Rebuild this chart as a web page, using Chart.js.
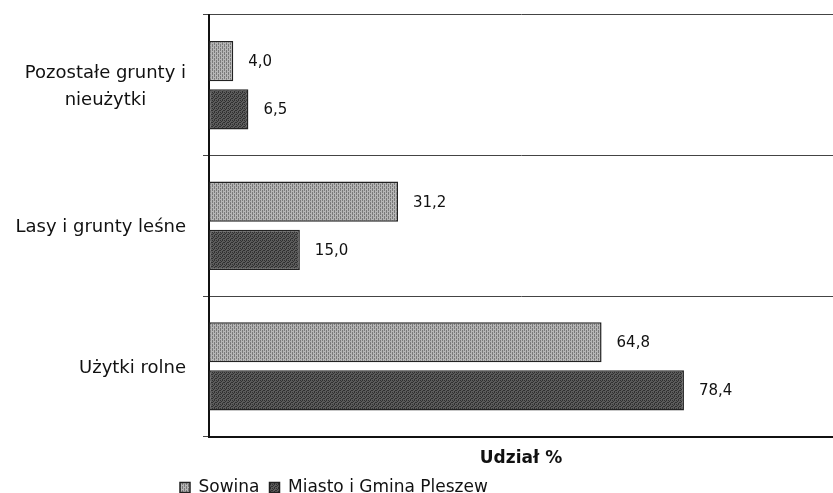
<!DOCTYPE html>
<html>
<head>
<meta charset="utf-8">
<script src="https://cdn.jsdelivr.net/npm/chart.js@4/dist/chart.umd.min.js"></script>
<style>
  html, body { margin: 0; padding: 0; background: #fff; }
  #wrap { width: 833px; height: 493px; position: relative; }
</style>
</head>
<body>
<div id="wrap"><canvas id="landChart"></canvas></div>
<script>
// land use shares, % of area
const CATEGORIES = [
  ["Pozostałe grunty i", "nieużytki"],
  ["Lasy i grunty leśne"],
  ["Użytki rolne"],
];
const SERIES_NAMES = ["Sowina", "Miasto i Gmina Pleszew"];
const SOWINA = [4.0, 31.2, 64.8];
const PLESZEW = [6.5, 15.0, 78.4];
const AXIS_TITLE = "Udział %";

const FONT = "'DejaVu Sans', Verdana, sans-serif";

// small dithered fills, like the scanned print
function makePattern(base, dark, mask) {
  const c = document.createElement("canvas");
  c.width = 4;
  c.height = 4;
  const g = c.getContext("2d");
  g.fillStyle = base;
  g.fillRect(0, 0, 4, 4);
  g.fillStyle = dark;
  mask.forEach((row, y) => {
    row.forEach((v, x) => { if (v) g.fillRect(x, y, 1, 1); });
  });
  return g.createPattern(c, "repeat");
}

const lightFill = makePattern("#b6b6b6", "#7a7a7a", [
  [1, 0, 1, 0],
  [1, 0, 0, 0],
  [1, 0, 1, 0],
  [0, 0, 1, 0],
]);
const darkFill = makePattern("#5c5c5c", "#303030", [
  [1, 0, 1, 0],
  [0, 1, 0, 0],
  [1, 0, 0, 1],
  [0, 0, 1, 0],
]);

const fmt = (v) => v.toFixed(1).replace(".", ",");

// value labels to the right of each bar
const valueLabels = {
  id: "valueLabels",
  afterDatasetsDraw(chart) {
    const ctx = chart.ctx;
    ctx.save();
    ctx.font = `15px ${FONT}`;
    ctx.fillStyle = "#111";
    ctx.textAlign = "left";
    ctx.textBaseline = "middle";
    chart.data.datasets.forEach((ds, i) => {
      chart.getDatasetMeta(i).data.forEach((bar, j) => {
        ctx.fillText(fmt(ds.data[j]), bar.x + 15, bar.y + 1);
      });
    });
    ctx.restore();
  },
};

// category labels: right aligned block, lines centred inside it (Excel style)
const categoryLabels = {
  id: "categoryLabels",
  afterDraw(chart) {
    const ctx = chart.ctx;
    const y = chart.scales.y;
    ctx.save();
    ctx.font = `18px ${FONT}`;
    ctx.fillStyle = "#111";
    ctx.textAlign = "center";
    ctx.textBaseline = "middle";
    const right = y.right - 23;
    const lh = 27;
    CATEGORIES.forEach((lines, i) => {
      const w = Math.max(...lines.map((l) => ctx.measureText(l).width));
      const cx = right - w / 2;
      const cy = y.getPixelForTick(i) + 2;
      lines.forEach((l, k) => {
        ctx.fillText(l, cx, cy + (k - (lines.length - 1) / 2) * lh);
      });
    });
    ctx.restore();
  },
};

// legend sits under the left part of the picture
const shiftLegend = {
  id: "shiftLegend",
  afterLayout(chart) {
    const lg = chart.legend;
    if (!lg) return;
    lg.left = 170;
  },
};

new Chart(document.getElementById("landChart"), {
  type: "bar",
  data: {
    labels: CATEGORIES,
    datasets: [
      {
        label: SERIES_NAMES[0],
        data: SOWINA,
        backgroundColor: lightFill,
        borderColor: "#222",
        borderWidth: 1.5,
        borderSkipped: false,
      },
      {
        label: SERIES_NAMES[1],
        data: PLESZEW,
        backgroundColor: darkFill,
        borderColor: "#222",
        borderWidth: 1.5,
        borderSkipped: false,
      },
    ],
  },
  options: {
    indexAxis: "y",
    responsive: true,
    maintainAspectRatio: false,
    animation: false,
    devicePixelRatio: 1,
    categoryPercentage: 0.686,
    barPercentage: 0.833,
    layout: { padding: { top: 15, right: 0, left: 0, bottom: -13 } },
    plugins: {
      tooltip: { enabled: false },
      legend: {
        position: "bottom",
        align: "start",
        labels: {
          font: { family: FONT, size: 17 },
          color: "#111",
          boxWidth: 10,
          boxHeight: 10,
          padding: 10,
        },
      },
    },
    scales: {
      x: {
        min: 0,
        max: 103,
        ticks: { display: false },
        grid: { display: false, drawTicks: false },
        border: { display: true, color: "#111", width: 2 },
        title: {
          display: true,
          text: AXIS_TITLE,
          font: { family: FONT, size: 17, weight: "bold" },
          color: "#111",
          padding: { top: 12, bottom: 0 },
        },
      },
      y: {
        ticks: { display: false },
        grid: {
          offset: true,
          color: "#444",
          lineWidth: 1,
          tickLength: 6,
          drawTicks: true,
        },
        border: { display: true, color: "#111", width: 2 },
        afterFit(scale) { scale.width = 209; },
      },
    },
  },
  plugins: [valueLabels, categoryLabels, shiftLegend],
});
</script>
</body>
</html>
